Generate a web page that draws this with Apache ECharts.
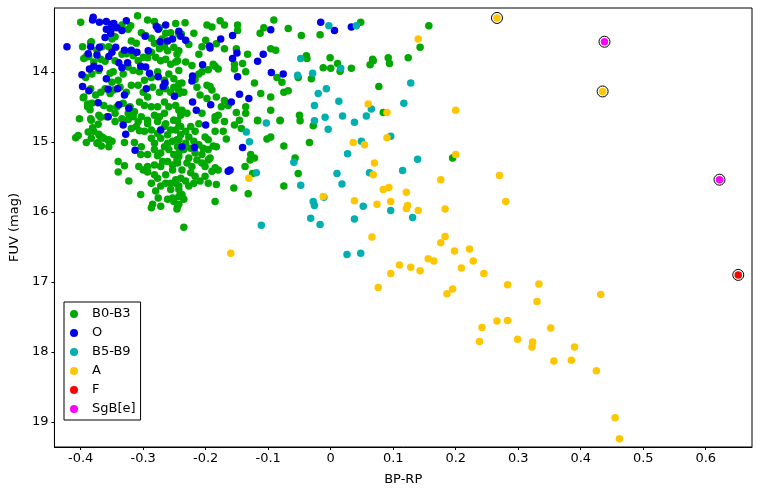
<!DOCTYPE html>
<html>
<head>
<meta charset="utf-8">
<script src="https://cdn.jsdelivr.net/npm/echarts@6.0.0/dist/echarts.min.js"></script>
<style>
  html, body { margin: 0; padding: 0; background: #fff; }
  #chart { width: 767px; height: 491px; }
</style>
</head>
<body>
<div id="chart"></div>
<script>
// BP-RP, FUV (mag) per spectral group
var b0b3 = [
  [-0.400,13.29],[-0.309,13.20],[-0.293,13.26],[-0.282,13.28],[-0.274,13.37],[-0.248,13.31],[-0.256,13.44],[-0.243,13.46],[-0.264,13.45],[-0.270,13.53],
  [-0.397,13.64],[-0.384,13.58],[-0.374,13.69],[-0.366,13.64],[-0.355,13.64],[-0.350,13.53],[-0.345,13.50],[-0.334,13.33],[-0.324,13.39],[-0.320,13.34],
  [-0.319,13.56],[-0.311,13.59],[-0.303,13.44],[-0.296,13.48],[-0.287,13.52],[-0.282,13.59],[-0.274,13.67],[-0.266,13.64],[-0.261,13.70],[-0.251,13.65],
  [-0.246,13.75],[-0.392,13.79],[-0.387,13.78],[-0.379,13.86],[-0.368,13.82],[-0.361,13.85],[-0.345,13.84],[-0.334,13.75],[-0.327,13.74],[-0.316,13.77],
  [-0.308,13.84],[-0.300,13.79],[-0.293,13.80],[-0.287,13.72],[-0.280,13.79],[-0.272,13.84],[-0.264,13.82],[-0.256,13.89],[-0.248,13.86],[-0.243,13.98],
  [-0.392,14.08],[-0.382,14.03],[-0.371,13.98],[-0.353,14.02],[-0.348,14.00],[-0.340,14.12],[-0.332,14.03],[-0.324,13.93],[-0.316,13.98],[-0.306,14.00],
  [-0.298,14.12],[-0.287,14.08],[-0.277,14.00],[-0.266,14.12],[-0.259,14.03],[-0.251,14.10],[-0.243,14.17],[-0.395,14.36],[-0.384,14.24],[-0.376,14.33],
  [-0.368,14.29],[-0.361,14.24],[-0.350,14.15],[-0.353,14.31],[-0.348,14.26],[-0.337,14.22],[-0.327,14.29],[-0.319,14.19],[-0.308,14.19],[-0.300,14.29],
  [-0.293,14.36],[-0.285,14.22],[-0.274,14.29],[-0.264,14.24],[-0.256,14.29],[-0.251,14.22],[-0.243,14.31],[-0.389,14.50],[-0.382,14.45],[-0.363,14.48],
  [-0.353,14.52],[-0.342,14.50],[-0.332,14.45],[-0.321,14.50],[-0.314,14.57],[-0.306,14.43],[-0.298,14.48],[-0.287,14.50],[-0.277,14.50],[-0.266,14.43],
  [-0.259,14.50],[-0.248,14.48],[-0.243,14.55],[-0.402,14.67],[-0.384,14.67],[-0.371,14.62],[-0.358,14.64],[-0.345,14.59],[-0.334,14.67],[-0.324,14.59],
  [-0.316,14.64],[-0.303,14.64],[-0.293,14.69],[-0.282,14.62],[-0.274,14.64],[-0.266,14.59],[-0.251,14.69],[-0.240,14.62],
  [-0.408,14.94],[-0.404,14.91],[-0.391,15.01],[-0.383,14.95],[-0.388,14.86],[-0.381,14.80],[-0.372,14.75],[-0.370,14.91],[-0.372,15.01],[-0.366,14.93],
  [-0.356,14.98],[-0.355,15.07],[-0.367,15.06],[-0.396,14.37],[-0.385,14.54],[-0.389,14.46],[-0.395,13.81],[-0.383,13.57],[-0.391,13.78],
  [-0.383,14.69],[-0.368,14.65],[-0.345,14.71],[-0.324,14.68],[-0.308,14.71],[-0.293,14.74],[-0.277,14.71],[-0.264,14.74],[-0.251,14.69],[-0.243,14.78],
  [-0.379,14.85],[-0.371,14.89],[-0.363,14.95],[-0.355,14.97],[-0.350,14.99],[-0.374,15.02],[-0.330,15.01],[-0.319,14.81],[-0.311,14.78],[-0.306,14.84],
  [-0.298,14.85],[-0.287,14.95],[-0.272,14.95],[-0.261,14.90],[-0.253,14.99],[-0.246,14.97],[-0.314,15.01],[-0.303,15.07],[-0.304,15.18],[-0.293,15.18],
  [-0.282,15.11],[-0.277,15.20],[-0.266,15.07],[-0.259,15.11],[-0.251,15.18],[-0.243,15.16],[-0.340,15.28],[-0.330,15.34],[-0.340,15.43],[-0.323,15.56],
  [-0.307,15.35],[-0.300,15.40],[-0.293,15.43],[-0.282,15.33],[-0.272,15.35],[-0.261,15.28],[-0.253,15.33],[-0.246,15.26],[-0.277,15.52],[-0.272,15.63],
  [-0.264,15.59],[-0.256,15.68],[-0.248,15.54],[-0.243,15.63],[-0.304,15.75],[-0.285,15.89],[-0.287,15.94],[-0.276,15.80],[-0.253,15.80],[-0.251,15.85],
  [-0.246,15.96],[-0.243,15.78],
  [-0.287,14.83],[-0.277,14.88],[-0.266,14.78],[-0.256,14.83],[-0.282,15.02],[-0.272,15.16],[-0.261,15.02],[-0.253,15.40],[-0.264,15.47],[-0.282,15.47],
  [-0.269,15.28],[-0.256,15.59],[-0.261,15.82],[-0.272,15.92],[-0.243,15.89],[-0.293,15.35],[-0.287,15.59],[-0.280,15.70],
  [-0.233,13.30],[-0.198,13.33],[-0.190,13.36],[-0.177,13.27],[-0.170,13.33],[-0.149,13.33],[-0.149,13.41],[-0.113,13.45],[-0.107,13.37],[-0.091,13.26],
  [-0.068,13.38],[-0.047,13.48],[-0.219,13.45],[-0.239,13.46],[-0.227,13.61],[-0.206,13.64],[-0.200,13.55],[-0.183,13.60],[-0.170,13.67],[-0.151,13.67],
  [-0.133,13.75],[-0.141,13.88],[-0.154,13.89],[-0.154,13.96],[-0.136,14.00],[-0.122,14.16],[-0.112,14.31],[-0.096,14.36],[-0.086,14.08],[-0.078,14.15],
  [-0.068,14.27],[-0.075,14.29],[-0.096,13.67],[-0.088,13.69],[-0.052,14.08],[-0.243,13.70],[-0.245,13.84],[-0.232,13.86],[-0.222,13.91],[-0.211,13.75],
  [-0.188,13.89],[-0.185,13.92],[-0.180,13.96],[-0.196,13.97],[-0.206,14.00],[-0.211,14.03],[-0.217,14.11],[-0.238,14.16],[-0.243,14.26],[-0.235,14.29],
  [-0.214,14.22],[-0.198,14.19],[-0.193,14.21],[-0.190,14.26],[-0.183,14.36],[-0.170,14.41],[-0.164,14.48],[-0.175,14.50],[-0.198,14.38],[-0.209,14.33],
  [-0.238,14.55],[-0.230,14.59],[-0.206,14.59],[-0.185,14.64],[-0.180,14.62],[-0.151,14.58],[-0.136,14.50],[-0.136,14.59],[-0.117,14.69],[-0.096,14.55],
  [-0.081,14.69],[-0.050,14.62],
  [-0.245,14.70],[-0.240,14.78],[-0.232,14.85],[-0.227,14.93],[-0.243,14.97],[-0.235,15.11],[-0.243,15.21],[-0.227,15.23],[-0.217,15.16],[-0.206,15.18],
  [-0.196,15.26],[-0.193,15.23],[-0.185,15.37],[-0.180,15.40],[-0.190,15.42],[-0.222,15.35],[-0.238,15.40],[-0.217,15.49],[-0.209,15.56],[-0.232,15.56],
  [-0.243,15.68],[-0.238,15.75],[-0.245,15.92],[-0.196,15.59],[-0.183,15.61],[-0.211,14.74],[-0.185,14.69],[-0.170,14.71],[-0.154,14.76],[-0.143,14.81],
  [-0.146,14.69],[-0.117,14.70],[-0.081,14.70],[-0.049,14.70],[-0.172,14.85],[-0.167,14.96],[-0.196,14.97],[-0.188,15.06],[-0.128,15.18],[-0.122,15.23],
  [-0.129,15.26],[-0.137,15.35],[-0.125,15.45],[-0.075,15.06],[-0.057,15.23],[-0.052,15.45],[-0.075,15.63],[-0.096,14.93],[-0.102,14.96],[-0.155,15.66],
  [-0.132,15.74],[-0.185,15.85],[-0.235,16.22],
  [-0.248,14.83],[-0.240,14.90],[-0.245,15.07],[-0.232,15.02],[-0.224,15.09],[-0.219,14.99],[-0.211,15.04],[-0.204,15.09],[-0.214,15.26],[-0.206,15.30],
  [-0.201,15.35],[-0.224,15.44],[-0.240,15.52],[-0.227,15.63],[-0.219,15.59],[-0.201,15.49],[-0.235,15.82],[-0.248,15.59],[-0.245,15.30],[-0.230,15.30],
  [-0.196,15.11],[-0.201,14.93],[-0.183,15.07],[-0.217,14.85],[-0.224,14.78],[-0.185,14.85],
  [-0.039,13.77],[-0.038,13.81],[-0.017,13.47],[-0.001,13.80],[-0.012,13.94],[0.000,13.95],[0.011,13.88],[0.015,13.99],[0.033,13.95],[0.048,13.29],
  [0.063,13.90],[0.067,13.82],[0.068,13.84],[0.092,13.80],[0.094,13.88],[0.077,14.21],[0.084,14.58],[0.124,13.80],[0.143,13.65],[0.157,13.34],
  [0.195,15.23],[-0.028,14.77],[-0.034,15.01],[-0.031,14.10]
];

var oStars = [
  [-0.422,13.64],[-0.380,13.22],[-0.381,13.26],[-0.370,13.29],[-0.359,13.28],[-0.351,13.32],[-0.347,13.31],[-0.359,13.39],[-0.350,13.38],[-0.342,13.37],
  [-0.334,13.41],[-0.327,13.27],[-0.352,13.45],[-0.361,13.51],[-0.384,13.64],[-0.370,13.65],[-0.374,13.76],[-0.388,13.74],[-0.350,13.72],[-0.355,13.78],
  [-0.344,13.65],[-0.330,13.69],[-0.319,13.69],[-0.310,13.72],[-0.297,13.49],[-0.292,13.70],[-0.279,13.35],[-0.276,13.39],[-0.264,13.33],[-0.273,13.57],
  [-0.261,13.56],[-0.253,13.53],[-0.243,13.42],[-0.240,13.49],[-0.232,13.55],[-0.386,13.96],[-0.379,13.92],[-0.370,13.95],[-0.398,14.04],[-0.397,14.21],
  [-0.387,14.27],[-0.359,14.10],[-0.356,14.25],[-0.341,14.24],[-0.339,13.87],[-0.334,13.94],[-0.325,13.87],[-0.304,13.92],[-0.296,13.93],[-0.290,14.02],
  [-0.295,14.24],[-0.276,14.07],[-0.268,14.21],[-0.265,14.16],[-0.330,14.33],[-0.372,14.44],[-0.339,14.47],[-0.323,14.52],[-0.250,14.35],[-0.221,14.06],
  [-0.222,14.13],[-0.221,14.43],[-0.215,14.55],[-0.356,14.64],[-0.332,14.76],[-0.328,14.89],[-0.272,14.83],[-0.313,15.12],[-0.238,15.07],[-0.218,15.08],
  [-0.194,13.63],[-0.193,13.66],[-0.176,13.53],[-0.157,13.48],[-0.150,13.73],[-0.157,13.81],[-0.205,13.90],[-0.192,14.47],[-0.200,14.76],[-0.159,14.43],
  [-0.146,14.32],[-0.131,14.38],[-0.149,14.07],[-0.117,13.85],[-0.108,13.75],[-0.096,13.40],[-0.095,14.01],[-0.076,14.03],[-0.141,15.08],[-0.161,15.40],
  [-0.164,15.42],[-0.016,13.29],[0.006,13.41],[0.033,13.36]
];

var b5b9 = [
  [-0.003,13.34],[0.041,13.34],[-0.048,13.81],[0.016,13.95],[-0.029,14.02],[-0.053,14.05],[-0.007,14.24],[-0.020,14.31],[0.128,14.16],[0.013,14.42],
  [-0.026,14.48],[0.117,14.45],[0.065,14.53],[-0.009,14.65],[0.019,14.63],[0.057,14.63],[-0.026,14.70],[-0.103,14.73],[0.038,14.72],[-0.004,14.82],
  [-0.135,14.86],[-0.130,15.00],[0.049,14.99],[0.096,14.92],[0.027,15.17],[0.139,15.25],[-0.059,15.29],[-0.119,15.44],[0.010,15.45],[0.062,15.44],
  [0.115,15.41],[-0.048,15.62],[0.018,15.60],[-0.028,15.85],[-0.026,15.91],[-0.011,15.79],[0.052,15.92],[0.096,15.98],[0.131,16.08],[-0.032,16.09],
  [0.038,16.10],[-0.111,16.19],[-0.017,16.18],[0.026,16.61],[0.048,16.59]
];

var aStars = [
  [0.266,13.23],[0.140,13.53],[0.200,14.55],[0.060,14.46],[0.090,14.58],[0.090,14.94],[0.036,15.01],[0.054,15.04],[0.200,15.18],[0.070,15.30],
  [0.068,15.47],[-0.131,15.52],[0.176,15.54],[0.270,15.48],[0.084,15.68],[0.093,15.65],[0.121,15.72],[-0.012,15.78],[0.038,15.84],[0.074,15.89],
  [0.096,15.85],[0.123,15.91],[0.121,15.95],[0.140,15.98],[0.183,15.96],[0.280,15.85],[0.066,16.36],[0.183,16.35],[0.176,16.44],[-0.160,16.59],
  [0.198,16.56],[0.222,16.53],[0.228,16.70],[0.156,16.67],[0.165,16.70],[0.110,16.76],[0.128,16.79],[0.143,16.84],[0.096,16.88],[0.209,16.80],
  [0.245,16.88],[0.076,17.08],[0.186,17.17],[0.195,17.10],[0.283,17.04],[0.333,17.03],[0.432,17.18],[0.330,17.28],[0.266,17.56],[0.283,17.55],
  [0.242,17.65],[0.352,17.66],[0.238,17.85],[0.299,17.82],[0.323,17.86],[0.322,17.93],[0.390,17.93],[0.357,18.13],[0.385,18.12],[0.425,18.27],
  [0.455,18.94],[0.462,19.24],[0.435,14.28]
];

var fStars = [[0.652,16.90]];
var sgbe = [[0.438,13.57],[0.622,15.54]];

// stars drawn with a black ring
var circled = [[0.266,13.23],[0.435,14.28],[0.438,13.57],[0.622,15.54],[0.652,16.90]];

var xTicks = [-0.4, -0.3, -0.2, -0.1, 0, 0.1, 0.2, 0.3, 0.4, 0.5, 0.6];
var yTicks = [14, 15, 16, 17, 18, 19];

(function () {
  var myChart = echarts.init(document.getElementById('chart'));
  var font = 'DejaVu Sans';

  function dots(name, data, color) {
    return {
      name: name,
      type: 'scatter',
      data: data,
      symbol: 'circle',
      symbolSize: 7.5,
      itemStyle: { color: color, opacity: 1 },
      emphasis: { disabled: true },
      silent: true
    };
  }

  var option = {
    animation: false,
    backgroundColor: '#fff',
    grid: {
      left: 41,
      right: 15,
      top: 8,
      bottom: 40,
      show: true,
      borderColor: '#000',
      borderWidth: 1,
      backgroundColor: 'transparent'
    },
    legend: {
      orient: 'vertical',
      left: 64,
      top: 302,
      padding: [5, 5, 4, 6],
      itemGap: 5,
      itemWidth: 16,
      itemHeight: 8,
      icon: 'circle',
      borderColor: '#000',
      borderWidth: 1,
      borderRadius: 0,
      backgroundColor: '#fff',
      textStyle: { fontFamily: font, fontSize: 13, color: '#000', lineHeight: 14, padding: [0, 0, 0, 5] },
      data: ['B0-B3', 'O', 'B5-B9', 'A', 'F', 'SgB[e]']
    },
    xAxis: {
      type: 'value',
      min: -0.442,
      max: 0.674,
      name: 'BP-RP',
      nameLocation: 'middle',
      nameGap: 26,
      nameTextStyle: { fontFamily: font, fontSize: 13, color: '#000' },
      axisLine: { onZero: false, lineStyle: { color: '#000', width: 1 } },
      axisTick: { length: 3, lineStyle: { color: '#000' }, customValues: xTicks },
      axisLabel: { fontFamily: font, fontSize: 13, color: '#000', margin: 5, customValues: xTicks },
      splitLine: { show: false }
    },
    yAxis: {
      type: 'value',
      inverse: true,
      min: 13.088,
      max: 19.358,
      name: 'FUV (mag)',
      nameLocation: 'middle',
      nameGap: 27,
      nameTextStyle: { fontFamily: font, fontSize: 13, color: '#000' },
      axisLine: { show: true, onZero: false, lineStyle: { color: '#000', width: 1 } },
      axisTick: { show: true, length: 3, lineStyle: { color: '#000' }, customValues: yTicks },
      axisLabel: { fontFamily: font, fontSize: 13, color: '#000', margin: 6, customValues: yTicks },
      splitLine: { show: false }
    },
    series: [
      dots('B0-B3', b0b3, '#00a800'),
      dots('O', oStars, '#0000e6'),
      dots('B5-B9', b5b9, '#00b0b0'),
      {
        name: 'ring',
        type: 'scatter',
        data: circled,
        symbol: 'circle',
        symbolSize: 11,
        itemStyle: { color: '#fff', borderColor: '#000', borderWidth: 1, opacity: 1 },
        emphasis: { disabled: true },
        silent: true
      },
      dots('A', aStars, '#ffc600'),
      dots('F', fStars, '#ff0000'),
      dots('SgB[e]', sgbe, '#ff00ff')
    ]
  };

  myChart.setOption(option);
})();
</script>
</body>
</html>
